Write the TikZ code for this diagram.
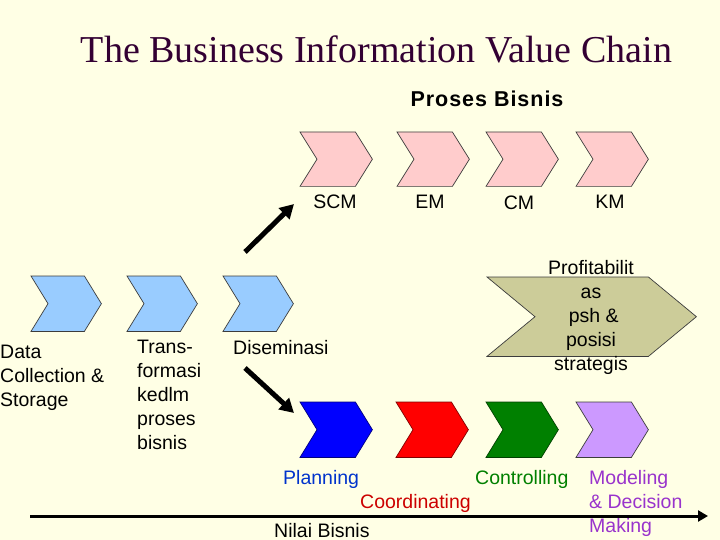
\documentclass[tikz,border=0pt]{standalone}
\usepackage{fontspec}
\setmainfont{Liberation Sans}
\newfontfamily\titlefont{Liberation Serif}
\newfontfamily\headfont[LetterSpace=4.5]{Liberation Sans Bold}
\usetikzlibrary{arrows.meta}
\definecolor{bgc}{RGB}{255,255,229}
\definecolor{pinkc}{RGB}{255,204,204}
\definecolor{lbluec}{RGB}{153,204,255}
\definecolor{khakic}{RGB}{204,204,153}
\definecolor{bluec}{RGB}{0,0,255}
\definecolor{redc}{RGB}{255,0,0}
\definecolor{greenc}{RGB}{0,128,0}
\definecolor{purplec}{RGB}{204,153,255}
\definecolor{titlec}{RGB}{51,0,51}
\definecolor{plantxt}{RGB}{0,51,204}
\definecolor{coordtxt}{RGB}{204,0,0}
\definecolor{ctrltxt}{RGB}{0,128,0}
\definecolor{modtxt}{RGB}{153,51,204}
\definecolor{edgec}{RGB}{60,60,60}
\newcommand\chev[7]{%
  \node[inner sep=0pt, minimum width=#5pt, minimum height=#6pt, anchor=north west] (#2) at (#3,#4) {};
  \draw[#1] (#2.north west) -- ([xshift=-#7pt]#2.north east) -- (#2.east) -- ([xshift=-#7pt]#2.south east) -- (#2.south west) -- ([xshift=#7pt]#2.west) -- cycle;}
\tikzset{
  lbl/.style={inner sep=0pt, font=\fontsize{19.5}{24}\selectfont},
  chevbase/.style={draw=edgec, line width=0.7pt, line join=miter},
  bigarrow/.style={line width=5pt, -{Triangle[length=14pt,width=15pt]}},
}
\begin{document}
\begin{tikzpicture}[x=1pt,y=-1pt]
\fill[bgc] (0,0) rectangle (720,540);
\useasboundingbox (0,0) rectangle (720,540);

% title
\node[inner sep=0pt, anchor=base, text=titlec, font=\titlefont\fontsize{38}{44}\selectfont] (title) at (376.5,63) {The Business Information Value Chain};
\node[inner sep=0pt, anchor=base, font=\headfont\fontsize{21.5}{26}\selectfont] (proses) at (487,107) {Proses Bisnis};

% pink chevrons
\chev{chevbase, fill=pinkc}{scm}{300}{132}{72}{54}{17}
\chev{chevbase, fill=pinkc}{em}{397}{132}{72}{54}{17}
\chev{chevbase, fill=pinkc}{cm}{486}{132}{72}{54}{17}
\chev{chevbase, fill=pinkc}{km}{576}{132}{72}{54}{17}
\node[lbl, anchor=base] (scmt) at (335,208) {SCM};
\node[lbl, anchor=base] (emt) at (430,208) {EM};
\node[lbl, anchor=base] (cmt) at (519,210) {CM};
\node[lbl, anchor=base] (kmt) at (610,208) {KM};

% light blue chevrons
\chev{chevbase, fill=lbluec}{dc}{31}{276}{70}{55}{17}
\chev{chevbase, fill=lbluec}{tf}{127}{276}{70}{55}{17}
\chev{chevbase, fill=lbluec}{ds}{223}{276}{70}{55}{17}
\node[lbl, anchor=north west, align=left] (dct) at (0,345) {Data\\Collection \&\\Storage};
\node[lbl, anchor=north west, align=left] (tft) at (137,340) {Trans-\\formasi\\kedlm\\proses\\bisnis};
\node[lbl, anchor=base west] (dst) at (233,354) {Diseminasi};

% khaki chevron
\chev{chevbase, fill=khakic}{prof}{487}{277}{209}{79}{48}
\node[lbl, anchor=north, align=center] (proft) at (591,260) {Profitabilit\\as\\\ psh \&\\posisi\\strategis};

% bottom chevrons
\chev{chevbase, fill=bluec, draw=bluec!50!black}{plan}{300}{402}{72}{55}{17}
\chev{chevbase, fill=redc, draw=redc!50!black}{coord}{396}{402}{72}{55}{17}
\chev{chevbase, fill=greenc, draw=greenc!50!black}{ctrl}{486}{402}{72}{55}{17}
\chev{chevbase, fill=purplec}{model}{576}{402}{72}{55}{17}
\node[lbl, anchor=base west, text=plantxt] (plant) at (283,484) {Planning};
\node[lbl, anchor=base west, text=coordtxt] (coordt) at (360,508) {Coordinating};
\node[lbl, anchor=base west, text=ctrltxt] (ctrlt) at (475,484) {Controlling};
\node[lbl, anchor=north west, align=left, text=modtxt] (modt) at (589,470) {Modeling\\\& Decision\\Making};

% arrows
\coordinate (upA) at (245,252);
\coordinate (upB) at (294,204);
\coordinate (dnA) at (245,368);
\coordinate (dnB) at (294,413);
\draw[bigarrow] (upA) -- (upB);
\draw[bigarrow] (dnA) -- (dnB);

% axis
\coordinate (axA) at (30,516);
\coordinate (axB) at (708,516);
\draw[line width=3pt, -{Triangle[length=10pt,width=11pt]}] (axA) -- (axB);
\node[lbl, anchor=base west] (nilai) at (274,537) {Nilai Bisnis};
\end{tikzpicture}
\end{document}
